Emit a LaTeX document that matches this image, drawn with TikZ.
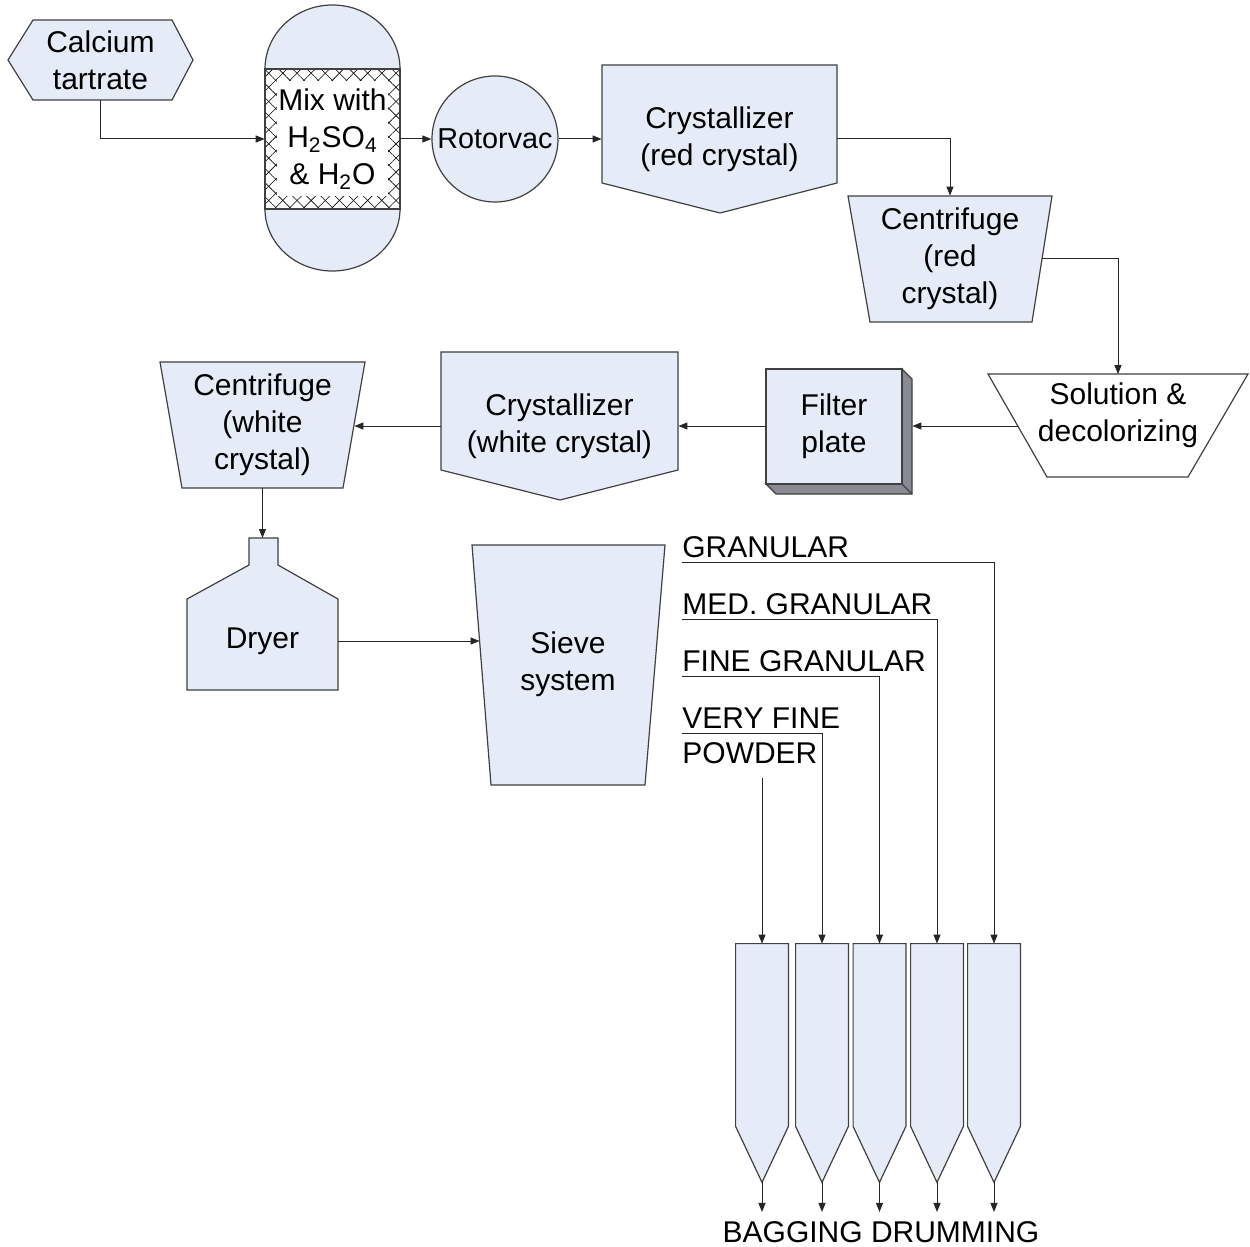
\documentclass[tikz,border=0pt]{standalone}
\usepackage{fontspec}
\setmainfont{Liberation Sans}
\usetikzlibrary{arrows.meta, patterns.meta}
\definecolor{unitblue}{RGB}{230,236,247}
\definecolor{edgegray}{RGB}{64,64,64}
\definecolor{sidegray}{RGB}{136,139,148}

\begin{document}
\begin{tikzpicture}[x=0.5pt, y=-0.5pt,
  unit/.style={draw=edgegray, fill=unitblue, line width=0.6pt},
  txt/.style={align=center, inner sep=0pt, font=\fontsize{15}{18.5}\selectfont},
  tag/.style={anchor=base west, inner xsep=0pt, inner ysep=2.5pt, font=\fontsize{15}{18.5}\selectfont},
  flow/.style={-{Triangle[length=4.5pt, width=3.5pt]}, line width=0.5pt, draw=black!85},
  silobox/.style={minimum width=26pt, minimum height=119pt, inner sep=0pt}]

\useasboundingbox (0,0) rectangle (1250,1247);

% Unit outlines
\filldraw[unit] (8,60) -- (33,20) -- (172,20) -- (193,60) -- (172,100) -- (33,100) -- cycle;
\filldraw[unit] (265,69) arc[start angle=180, end angle=0, x radius=33.75pt, y radius=32pt] -- cycle;
\filldraw[unit] (265,209) arc[start angle=180, end angle=360, x radius=33.75pt, y radius=31pt] -- cycle;
\filldraw[unit] (602,65) -- (837,65) -- (837,183) -- (720,213) -- (602,183) -- cycle;
\filldraw[unit] (848,196) -- (1052,196) -- (1032,322) -- (870,322) -- cycle;
\filldraw[unit, fill=white] (988,374) -- (1248,374) -- (1188,477) -- (1047,477) -- cycle;
\filldraw[unit, fill=sidegray] (902,369) -- (912,379) -- (912,494) -- (776,494) -- (766,484) -- (902,484) -- cycle;
\filldraw[unit] (766,369) rectangle (902,484);
\draw[edgegray, line width=0.6pt] (902,484) -- (912,494);
\filldraw[unit] (441,352) -- (678,352) -- (678,470) -- (560,500) -- (441,470) -- cycle;
\filldraw[unit] (160,362) -- (365,362) -- (343,488) -- (182,488) -- cycle;
\filldraw[unit] (249,538) -- (278,538) -- (278,565) -- (338,599) -- (338,690) -- (187,690) -- (187,599) -- (249,565) -- cycle;
\filldraw[unit] (472,545) -- (665,545) -- (645,785) -- (491,785) -- cycle;

% Nodes
\node[txt, minimum width=92.5pt, minimum height=40pt] (feed) at (100.5,60) {Calcium\\tartrate};
\node[draw=edgegray, line width=0.6pt, inner sep=0pt, minimum width=67.5pt, minimum height=70pt,
  preaction={pattern={Lines[angle=45, distance=5pt, line width=0.3pt]}},
  pattern={Lines[angle=-45, distance=5pt, line width=0.3pt]}] (mix) at (332.5,139) {};
\node[txt, fill=white, minimum width=55.5pt, minimum height=57.5pt] (mixtxt) at (mix.center) {Mix with\\H\textsubscript{2}SO\textsubscript{4}\\\& H\textsubscript{2}O};
\node[unit, txt, circle, minimum size=63pt, font=\fontsize{14.4}{18.5}\selectfont] (rotor) at (495,139) {Rotorvac};
\node[txt, minimum width=117.5pt, minimum height=74pt] (cryred) at (719.5,139) {Crystallizer\\(red crystal)};
\node[txt, minimum width=92pt, minimum height=63pt] (cenred) at (950,259) {Centrifuge\\(red\\crystal)};
\node[txt, minimum width=100pt, minimum height=51.5pt] (sol) at (1118,426) {};
\node[txt] (soltxt) at (1118,415.5) {Solution \&\\decolorizing};
\node[txt, minimum width=68pt, minimum height=57.5pt] (filt) at (834,426) {Filter\\plate};
\node[txt, minimum width=118.5pt, minimum height=74pt] (crywht) at (559.5,426) {Crystallizer\\(white crystal)};
\node[txt, minimum width=91.5pt, minimum height=63pt] (cenwht) at (262.5,425) {Centrifuge\\(white\\crystal)};
\coordinate (dryin) at (262.5,538);
\node[txt, minimum width=75.5pt] (dryer) at (262.5,641) {Dryer};
\node[txt, minimum width=88pt, minimum height=120pt] (sieve) at (568,664.5) {Sieve\\system};

\node[tag] (gran) at (682,557) {GRANULAR};
\node[tag] (medgran) at (682,614) {MED. GRANULAR};
\node[tag] (finegran) at (682,671) {FINE GRANULAR};
\node[tag] (vfine) at (682,728) {VERY FINE};
\node[tag] (powder) at (682,763) {POWDER};

% Silos
\foreach \i/\xs in {1/762,2/822,3/879.5,4/937,5/994} {
  \node[silobox] (silo\i) at (\xs,1063) {};
  \filldraw[unit] (silo\i.north west) -- (silo\i.north east) -- ([yshift=28pt]silo\i.south east)
    -- (silo\i.south) -- ([yshift=28pt]silo\i.south west) -- cycle;
}
\node[txt, inner ysep=4.5pt] (bag) at (881,1232) {BAGGING DRUMMING};

% Connectors
\draw[flow] (feed.south) |- (mix.west);
\draw[flow] (mix.east) -- (rotor.west);
\draw[flow] (rotor.east) -- (cryred.west);
\draw[flow] (cryred.east) -| (cenred.north);
\draw[flow] (cenred.east) -| (sol.north);
\draw[flow] (sol.west) -- ([xshift=5pt]filt.east);
\draw[flow] (filt.west) -- (crywht.east);
\draw[flow] (crywht.west) -- (crywht.west -| cenwht.east);
\draw[flow] (cenwht.south) -- (dryin);
\draw[flow] (dryer.east) -- (dryer.east -| sieve.west);
\draw[flow] (gran.south west) -| (silo5.north);
\draw[flow] (medgran.south west) -| (silo4.north);
\draw[flow] (finegran.south west) -| (silo3.north);
\draw[flow] (vfine.south west) -| (silo2.north);
\coordinate (powout) at (silo1.north |- powder.south);
\draw[flow] ([yshift=-4.5pt]powout) -- (silo1.north);
\foreach \i in {1,...,5} \draw[flow] (silo\i.south) -- (silo\i.south |- bag.north);

\end{tikzpicture}
\end{document}
